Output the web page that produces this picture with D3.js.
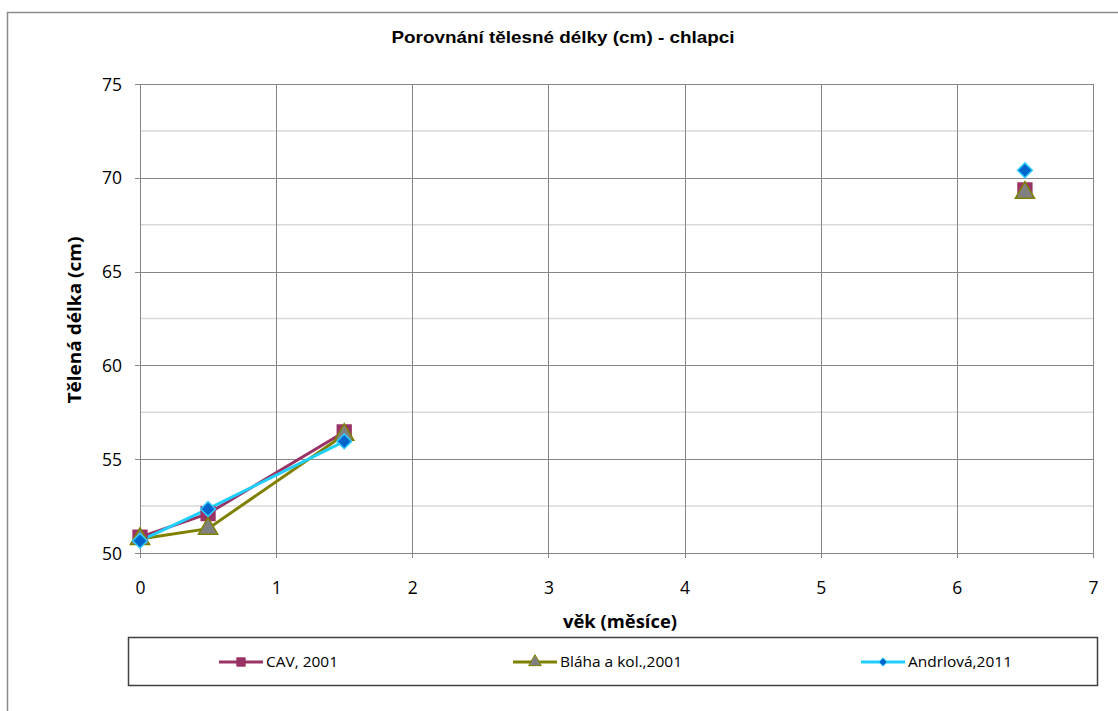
<!DOCTYPE html>
<html><head><meta charset="utf-8">
<script src="https://cdn.jsdelivr.net/npm/d3@7"></script>
<style>body{margin:0;background:#fff}svg{display:block}</style>
</head><body>
<svg id="c" width="1118" height="711"></svg>
<script>
const ages = [0, 0.5, 1.5, 2.5, 3.5, 4.5, 5.5, 6.5];
const cav = [50.85, 52.1, 56.45, null, null, null, null, 69.35];
const blaha = [50.75, 51.3, 56.3, null, null, null, null, 69.2];
const andrlova = [50.65, 52.35, 55.95, null, null, null, null, 70.4];
const seriesNames = ["CAV, 2001", "Bláha a kol.,2001", "Andrlová,2011"];
const xTicks = [0, 1, 2, 3, 4, 5, 6, 7];
const yTicks = [50, 55, 60, 65, 70, 75];
const yMinor = [52.5, 57.5, 62.5, 67.5, 72.5];

const svg = d3.select("#c");
const font = "'Liberation Sans', Arial, sans-serif";
const narrow = "'Open Sans', 'Liberation Sans', sans-serif";
const x = d3.scaleLinear().domain([0, 7]).range([140, 1093]);
const y = d3.scaleLinear().domain([50, 75]).range([553, 84]);

// outer border
svg.append("rect").attr("x", 7.5).attr("y", 12.5).attr("width", 1130).attr("height", 720)
  .attr("fill", "none").attr("stroke", "#8c8c8c").attr("stroke-width", 1.5);

// title
svg.append("text").attr("x", 563).attr("y", 43).attr("text-anchor", "middle")
  .attr("font-family", font).attr("font-weight", "bold").attr("font-size", 16.5)
  .attr("textLength", 343).attr("lengthAdjust", "spacingAndGlyphs")
  .text("Porovnání tělesné délky (cm) - chlapci");

// minor grid
svg.append("g").selectAll("line").data(yMinor).join("line")
  .attr("x1", x(0)).attr("x2", x(7)).attr("y1", d => y(d)).attr("y2", d => y(d))
  .attr("stroke", "#d9d9d9").attr("stroke-width", 1.5);
// major horizontal grid
svg.append("g").selectAll("line").data(yTicks).join("line")
  .attr("x1", x(0) - 5).attr("x2", x(7)).attr("y1", d => Math.round(y(d)) + 0.5).attr("y2", d => Math.round(y(d)) + 0.5)
  .attr("stroke", "#868686").attr("stroke-width", 1);
// vertical grid
svg.append("g").selectAll("line").data(xTicks).join("line")
  .attr("x1", d => Math.round(x(d)) + 0.5).attr("x2", d => Math.round(x(d)) + 0.5)
  .attr("y1", y(75)).attr("y2", y(50) + 5)
  .attr("stroke", "#868686").attr("stroke-width", 1);

// axes tick labels via d3 axes
const yAxis = svg.append("g").attr("transform", `translate(${x(0)},0)`)
  .call(d3.axisLeft(y).tickValues(yTicks).tickFormat(d3.format("d")).tickSize(0).tickPadding(18));
const xAxis = svg.append("g").attr("transform", `translate(0,${y(50)})`)
  .call(d3.axisBottom(x).tickValues(xTicks).tickFormat(d3.format("d")).tickSize(0).tickPadding(29));
[yAxis, xAxis].forEach(a => {
  a.select(".domain").remove();
  a.selectAll("text").attr("font-family", narrow).attr("font-size", 17.5).attr("fill", "#000");
});
yAxis.selectAll("text").attr("dy", "0.35em");

// axis titles
svg.append("text").attr("x", 620).attr("y", 628).attr("text-anchor", "middle")
  .attr("font-family", narrow).attr("font-weight", "bold").attr("font-size", 17)
  .attr("textLength", 114).attr("lengthAdjust", "spacingAndGlyphs")
  .text("věk (měsíce)");
svg.append("text").attr("transform", "translate(81,320) rotate(-90)").attr("text-anchor", "middle")
  .attr("font-family", narrow).attr("font-weight", "bold").attr("font-size", 17)
  .attr("textLength", 167).attr("lengthAdjust", "spacingAndGlyphs")
  .text("Tělená délka (cm)");

const styles = [
  {vals: cav, line: "#993366", marker: "square", fill: "#993366", stroke: "#993366"},
  {vals: blaha, line: "#808000", marker: "triangle", fill: "#808080", stroke: "#808000"},
  {vals: andrlova, line: "#1fd0ff", marker: "diamond", fill: "#0066cc", stroke: "#33ccff"}
];
const squareDiamond = {
  draw(ctx, size) {
    const r = Math.sqrt(size) / 2 * Math.SQRT2;
    ctx.moveTo(0, -r); ctx.lineTo(r, 0); ctx.lineTo(0, r); ctx.lineTo(-r, 0); ctx.closePath();
  }
};
const symTypes = {square: d3.symbolSquare, triangle: d3.symbolTriangle, diamond: squareDiamond};
const symSize = {square: 190, triangle: 160, diamond: 110};
const legSize = {square: 70, triangle: 70, diamond: 35};

const lineGen = d3.line().defined(d => d.v !== null).x(d => x(d.a)).y(d => y(d.v));
styles.forEach(s => {
  const pts = ages.map((a, i) => ({a, v: s.vals[i]}));
  svg.append("path").datum(pts).attr("d", lineGen).attr("fill", "none")
    .attr("stroke", s.line).attr("stroke-width", 3);
});
styles.forEach(s => {
  const pts = ages.map((a, i) => ({a, v: s.vals[i]})).filter(d => d.v !== null);
  svg.append("g").selectAll("path").data(pts).join("path")
    .attr("transform", d => `translate(${x(d.a)},${y(d.v)})`)
    .attr("d", d3.symbol().type(symTypes[s.marker]).size(symSize[s.marker]))
    .attr("fill", s.fill).attr("stroke", s.stroke).attr("stroke-width", 1.5);
});

// legend
svg.append("rect").attr("x", 128.5).attr("y", 637.5).attr("width", 969).attr("height", 48)
  .attr("fill", "#fff").attr("stroke", "#404040").attr("stroke-width", 1.5);
const legX = [219, 513, 861];
const legW = [72, 122, 104];
styles.forEach((s, i) => {
  const g = svg.append("g").attr("transform", `translate(${legX[i]},662)`);
  g.append("line").attr("x1", 0).attr("x2", 44).attr("stroke", s.line).attr("stroke-width", 3);
  g.append("path").attr("transform", "translate(22,0)")
    .attr("d", d3.symbol().type(symTypes[s.marker]).size(legSize[s.marker]))
    .attr("fill", s.fill).attr("stroke", s.stroke).attr("stroke-width", 1);
  g.append("text").attr("x", 47).attr("y", 5).attr("font-family", narrow).attr("font-size", 14)
    .attr("textLength", legW[i]).attr("lengthAdjust", "spacingAndGlyphs")
    .text(seriesNames[i]);
});
</script>
</body></html>
